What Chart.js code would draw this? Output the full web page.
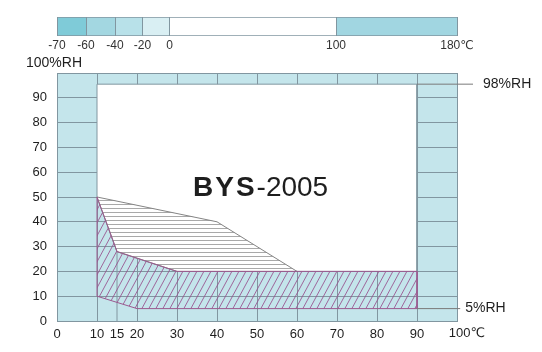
<!DOCTYPE html>
<html><head><meta charset="utf-8">
<script src="https://cdn.jsdelivr.net/npm/chart.js@4.4.0/dist/chart.umd.min.js"></script>
<style>
html,body{margin:0;padding:0;background:#fff;}
#wrap{position:relative;width:542px;height:352px;overflow:hidden;}
.box{position:absolute;left:0;width:542px;}
canvas{display:block;}
</style></head><body>
<div id="wrap">
  <div class="box" style="top:0;height:52px"><canvas id="bar" width="542" height="52"></canvas></div>
  <div class="box" style="top:52px;height:300px"><canvas id="main" width="542" height="300"></canvas></div>
</div>
<script>
// ---------- DATA ----------
// temperature colour bar
const tempEdges = [-70, -60, -40, -20, 0, 100, 180];
const tempColors = ['#7fcbd8', '#a3d7e1', '#b8e1e9', '#d9eff3', '#ffffff', '#a1d6e1'];
// schematic (non-linear) spacing of the temperature bar's segments
const tempSegmentWeights = [29, 29, 27.5, 27, 166.5, 121];

// main chart axes
const xTicks = [0, 10, 15, 20, 30, 40, 50, 60, 70, 80, 90, 100];
const yTicks = [0, 10, 20, 30, 40, 50, 60, 70, 80, 90, 100];

// working area (white) outline
const workX = [10, 10, 90, 90, 30, 15, 10];
const workY = [50, 95.5, 95.5, 20, 20, 28, 50];
// upper humidity range (horizontal hatching)
const upperX = [10, 40, 60, 30, 15, 10];
const upperY = [50, 40, 20, 20, 28, 50];
// lower humidity range (diagonal hatching)
const lowerX = [10, 15, 30, 90, 90, 20, 10, 10];
const lowerY = [50, 28, 20, 20, 5, 5, 10, 50];
// humidity limit lines
const rhMax = 95.5, rhMaxLabel = '98%RH';
const rhMin = 5, rhMinLabel = '5%RH';
const rhLineEndX = [104, 100.8];

// ---------- STYLE ----------
const FONT = "'Liberation Sans', Arial, 'DejaVu Sans', sans-serif";
const gridColor = '#8196a0';
const lightBlue = '#c4e5eb';
const purple = '#9b5a8f';

function pts(xs, ys) { return xs.map((x, i) => ({ x: x, y: ys[i] })); }

// ---------- piecewise scale for the colour bar ----------
class PiecewiseScale extends Chart.LinearScale {
  _dec(v) {
    const total = tempSegmentWeights.reduce((a, b) => a + b, 0);
    let cum = 0;
    for (let i = 0; i < tempEdges.length - 1; i++) {
      const a = tempEdges[i], b = tempEdges[i + 1];
      if (v <= b || i === tempEdges.length - 2) {
        const f = (v - a) / (b - a);
        return (cum + f * tempSegmentWeights[i]) / total;
      }
      cum += tempSegmentWeights[i];
    }
    return 1;
  }
  getPixelForValue(v) {
    if (v === null || v === undefined || isNaN(v)) return NaN;
    return this.getPixelForDecimal(this._dec(v));
  }
  getValueForPixel(p) {
    const total = tempSegmentWeights.reduce((a, b) => a + b, 0);
    const d = this.getDecimalForPixel(p) * total;
    let cum = 0;
    for (let i = 0; i < tempSegmentWeights.length; i++) {
      if (d <= cum + tempSegmentWeights[i]) {
        return tempEdges[i] + (d - cum) / tempSegmentWeights[i] * (tempEdges[i + 1] - tempEdges[i]);
      }
      cum += tempSegmentWeights[i];
    }
    return tempEdges[tempEdges.length - 1];
  }
}
PiecewiseScale.id = 'piecewise';
PiecewiseScale.defaults = Chart.LinearScale.defaults;
Chart.register(PiecewiseScale);

// ---------- colour bar chart ----------
new Chart(document.getElementById('bar'), {
  type: 'bar',
  data: {
    labels: [''],
    datasets: tempEdges.slice(0, -1).map((v, i) => ({
      data: [[v, tempEdges[i + 1]]],
      backgroundColor: tempColors[i],
      borderColor: gridColor,
      borderWidth: { top: 1, bottom: 1, left: 0, right: 0 },
      borderSkipped: false,
      barPercentage: 1, categoryPercentage: 1, grouped: false
    }))
  },
  options: {
    indexAxis: 'y', responsive: false, animation: false,
    layout: { padding: { left: 57, right: 85, top: 17, bottom: 0 } },
    plugins: { legend: { display: false }, tooltip: { enabled: false } },
    scales: {
      x: {
        type: 'piecewise', min: -70, max: 180, position: 'bottom',
        afterBuildTicks: s => { s.ticks = tempEdges.map(v => ({ value: v })); },
        afterFit: s => { s.height = 16; },
        grid: { display: true, color: gridColor, drawTicks: false, z: 1 },
        border: { display: false },
        ticks: {
          padding: 2, autoSkip: false, maxRotation: 0, color: '#333',
          font: { family: FONT, size: 12 },
          callback: v => v === 180 ? '180℃' : String(v)
        }
      },
      y: { display: false }
    }
  }
});

// ---------- patterns ----------
function hPattern() {
  const c = document.createElement('canvas'); c.width = 4; c.height = 4;
  const g = c.getContext('2d');
  g.fillStyle = '#ffffff'; g.fillRect(0, 0, 4, 4);
  g.fillStyle = '#a9a9a9'; g.fillRect(0, 0, 4, 1);
  return g.createPattern(c, 'repeat');
}
function dPattern() {
  const w = 7, h = 13;
  const c = document.createElement('canvas'); c.width = w; c.height = h;
  const g = c.getContext('2d');
  g.strokeStyle = 'rgba(150,80,140,0.85)'; g.lineWidth = 1;
  for (const dx of [-w, 0, w]) {
    g.beginPath(); g.moveTo(dx - w, 2 * h); g.lineTo(dx + 2 * w, -h); g.stroke();
  }
  return g.createPattern(c, 'repeat');
}

// ---------- plugins ----------
const bgPlugin = {
  id: 'plotBg',
  beforeDraw(chart) {
    const { ctx, chartArea: a } = chart;
    ctx.save(); ctx.fillStyle = lightBlue;
    ctx.fillRect(a.left, a.top, a.right - a.left, a.bottom - a.top);
    ctx.restore();
  }
};
const textPlugin = {
  id: 'texts',
  afterDraw(chart) {
    const { ctx, scales: { x, y } } = chart;
    ctx.save();
    ctx.fillStyle = '#1e1e1e';
    ctx.textBaseline = 'middle';
    // axis units
    ctx.font = '14px ' + FONT; ctx.textAlign = 'center';
    ctx.fillText('100%RH', x.getPixelForValue(0) - 3, y.getPixelForValue(100) - 10);
    ctx.font = '13px ' + FONT;
    ctx.fillText('100℃', x.getPixelForValue(100) + 10, y.getPixelForValue(0) + 12);
    // humidity limit labels
    ctx.font = '14px ' + FONT; ctx.textAlign = 'left';
    ctx.fillText(rhMaxLabel, x.getPixelForValue(rhLineEndX[0]) + 10, y.getPixelForValue(rhMax));
    ctx.fillText(rhMinLabel, x.getPixelForValue(rhLineEndX[1]) + 5, y.getPixelForValue(rhMin));
    // model name
    ctx.textBaseline = 'alphabetic';
    const tx = x.getPixelForValue(34), ty = y.getPixelForValue(50) - 1;
    ctx.font = 'bold 28px ' + FONT;
    ctx.letterSpacing = '2px';
    ctx.fillText('BYS', tx, ty);
    const wB = ctx.measureText('BYS').width;
    ctx.letterSpacing = '0px';
    ctx.font = '28px ' + FONT;
    ctx.fillText('-2005', tx + wB, ty);
    ctx.restore();
  }
};

// ---------- main chart ----------
new Chart(document.getElementById('main'), {
  type: 'line',
  data: {
    datasets: [
      { label: 'grid15', data: pts([15, 15], [0, lowerY[1]]), borderColor: gridColor, borderWidth: 1, fill: false, order: 6 },
      { label: 'work', data: pts(workX, workY), borderColor: gridColor, backgroundColor: '#ffffff', borderWidth: 1, fill: 'shape', order: 5 },
      { label: 'upper', data: pts(upperX, upperY), borderColor: '#858585', backgroundColor: hPattern(), borderWidth: 1, fill: 'shape', order: 4 },
      { label: 'lower', data: pts(lowerX, lowerY), borderColor: purple, backgroundColor: dPattern(), borderWidth: 1, fill: 'shape', order: 3 },
      { label: 'rhMax', data: pts([90, rhLineEndX[0]], [rhMax, rhMax]), borderColor: '#7a7a7a', borderWidth: 1, fill: false, clip: false, order: 1 },
      { label: 'rhMin', data: pts([90, rhLineEndX[1]], [rhMin, rhMin]), borderColor: '#7a7a7a', borderWidth: 1, fill: false, clip: false, order: 2 }
    ]
  },
  options: {
    responsive: false, animation: false,
    layout: { padding: { left: 0, right: 85, top: 21, bottom: 0 } },
    elements: { point: { radius: 0, hoverRadius: 0 }, line: { tension: 0 } },
    plugins: { legend: { display: false }, tooltip: { enabled: false }, filler: { drawTime: 'beforeDatasetDraw' } },
    scales: {
      x: {
        type: 'linear', min: 0, max: 100,
        afterBuildTicks: s => { s.ticks = xTicks.map(v => ({ value: v })); },
        afterFit: s => { s.height = 31; },
        grid: { color: c => (c.tick && c.tick.value === 15) ? 'rgba(0,0,0,0)' : gridColor, drawTicks: false },
        border: { color: gridColor },
        ticks: {
          padding: 6, autoSkip: false, maxRotation: 0, color: '#1e1e1e',
          font: { family: FONT, size: 13 },
          callback: v => v === 100 ? '' : String(v)
        }
      },
      y: {
        min: 0, max: 100,
        afterBuildTicks: s => { s.ticks = yTicks.map(v => ({ value: v })); },
        afterFit: s => { s.width = 57; },
        grid: { color: gridColor, drawTicks: false },
        border: { color: gridColor },
        ticks: {
          padding: 10, autoSkip: false, color: '#1e1e1e',
          font: { family: FONT, size: 13 },
          callback: v => v === 100 ? '' : String(v)
        }
      }
    }
  },
  plugins: [bgPlugin, textPlugin]
});
</script>
</body></html>
